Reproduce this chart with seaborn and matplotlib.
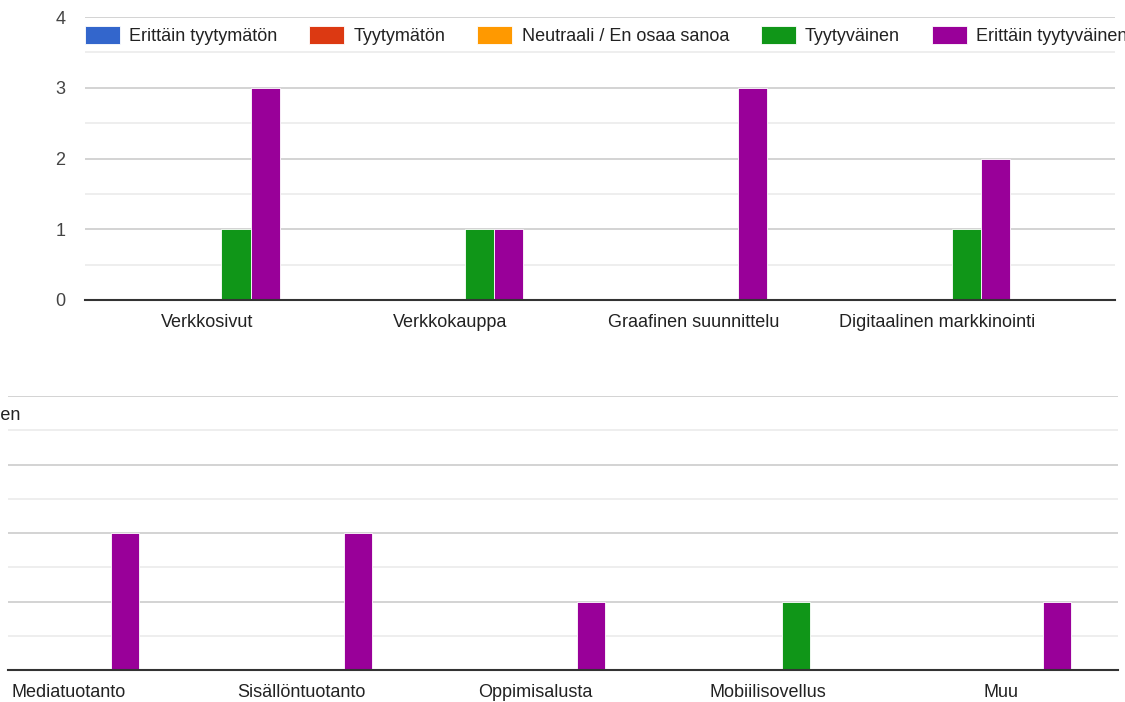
import matplotlib
matplotlib.use("Agg")
import matplotlib.pyplot as plt
import seaborn as sns
import pandas as pd

# series (legend order) and colours
series = ["Erittäin tyytymätön", "Tyytymätön", "Neutraali / En osaa sanoa",
          "Tyytyväinen", "Erittäin tyytyväinen"]
colors = ["#3366cc", "#dc3912", "#ff9900", "#109618", "#990099"]

# top chart
cats_top = ["Verkkosivut", "Verkkokauppa", "Graafinen suunnittelu", "Digitaalinen markkinointi"]
top_very_unsat = [0, 0, 0, 0]
top_unsat = [0, 0, 0, 0]
top_neutral = [0, 0, 0, 0]
top_sat = [1, 1, 0, 1]
top_very_sat = [3, 1, 3, 2]

# bottom chart
cats_bot = ["Mediatuotanto", "Sisällöntuotanto", "Oppimisalusta", "Mobiilisovellus", "Muu"]
bot_very_unsat = [0, 0, 0, 0, 0]
bot_unsat = [0, 0, 0, 0, 0]
bot_neutral = [0, 0, 0, 0, 0]
bot_sat = [0, 0, 0, 1, 0]
bot_very_sat = [2, 2, 1, 0, 1]

yticks = [0, 1, 2, 3, 4]


def long_df(cats, cols):
    rows = []
    for s, vals in zip(series, cols):
        for c, v in zip(cats, vals):
            rows.append({"cat": c, "series": s, "value": v})
    return pd.DataFrame(rows)


df_top = long_df(cats_top, [top_very_unsat, top_unsat, top_neutral, top_sat, top_very_sat])
df_bot = long_df(cats_bot, [bot_very_unsat, bot_unsat, bot_neutral, bot_sat, bot_very_sat])

sns.set_style("white")
plt.rcParams['font.family'] = ['Liberation Sans', 'DejaVu Sans']

fig = plt.figure(figsize=(11.25, 7.02), dpi=100)
ax1 = fig.add_axes([85 / 1125, 1 - 300 / 702, 1030 / 1125, 283 / 702])
ax2 = fig.add_axes([8 / 1125, 1 - 670 / 702, 1110 / 1125, 274 / 702])


def style_axis(ax):
    ax.set_ylim(0, 4)
    ax.set_yticks(yticks)
    ax.set_yticks([0.5, 1.5, 2.5, 3.5], minor=True)
    ax.grid(axis="y", which="major", color="#cccccc", lw=1.2)
    ax.grid(axis="y", which="minor", color="#ebebeb", lw=1.2)
    ax.grid(axis="x", visible=False)
    ax.set_axisbelow(True)
    for s in ["top", "right", "left"]:
        ax.spines[s].set_visible(False)
    ax.spines["bottom"].set_color("#333333")
    ax.spines["bottom"].set_linewidth(1.5)
    ax.spines["bottom"].set_zorder(5)
    ax.tick_params(axis="both", which="both", length=0, labelsize=13, colors="#222222")
    ax.set_xlabel("")
    ax.set_ylabel("")


sns.barplot(data=df_top, x="cat", y="value", hue="series", palette=colors, saturation=1,
            width=0.6, ax=ax1, errorbar=None, edgecolor="white", linewidth=0.6)
style_axis(ax1)
ax1.set_xlim(-0.5, 3.73)
ax1.tick_params(axis="y", pad=14, labelcolor="#444444")
ax1.tick_params(axis="x", pad=10)
ax1.legend(loc="center left", bbox_to_anchor=(0.0, 0.935), ncol=5, frameon=False,
           fontsize=13, handlelength=1.94, handleheight=1.15, handletextpad=0.52,
           columnspacing=1.75, borderaxespad=0, borderpad=0)
for t in ax1.get_legend().get_texts():
    t.set_color("#222222")

sns.barplot(data=df_bot, x="cat", y="value", hue="series", palette=colors, saturation=1,
            width=0.6, ax=ax2, errorbar=None, edgecolor="white", linewidth=0.6, legend=False)
style_axis(ax2)
ax2.set_xlim(-0.26, 4.5)
ax2.tick_params(axis="y", labelleft=False)
ax2.tick_params(axis="x", pad=10)

# bottom chart legend, cut off by the left edge of the picture (as in the reference)
fig.text(20 / 1125, 1 - 415 / 702, "Erittäin tyytyväinen", ha="right", va="center",
         fontsize=13, color="#222222")

fig.savefig("out.png", dpi=100)
